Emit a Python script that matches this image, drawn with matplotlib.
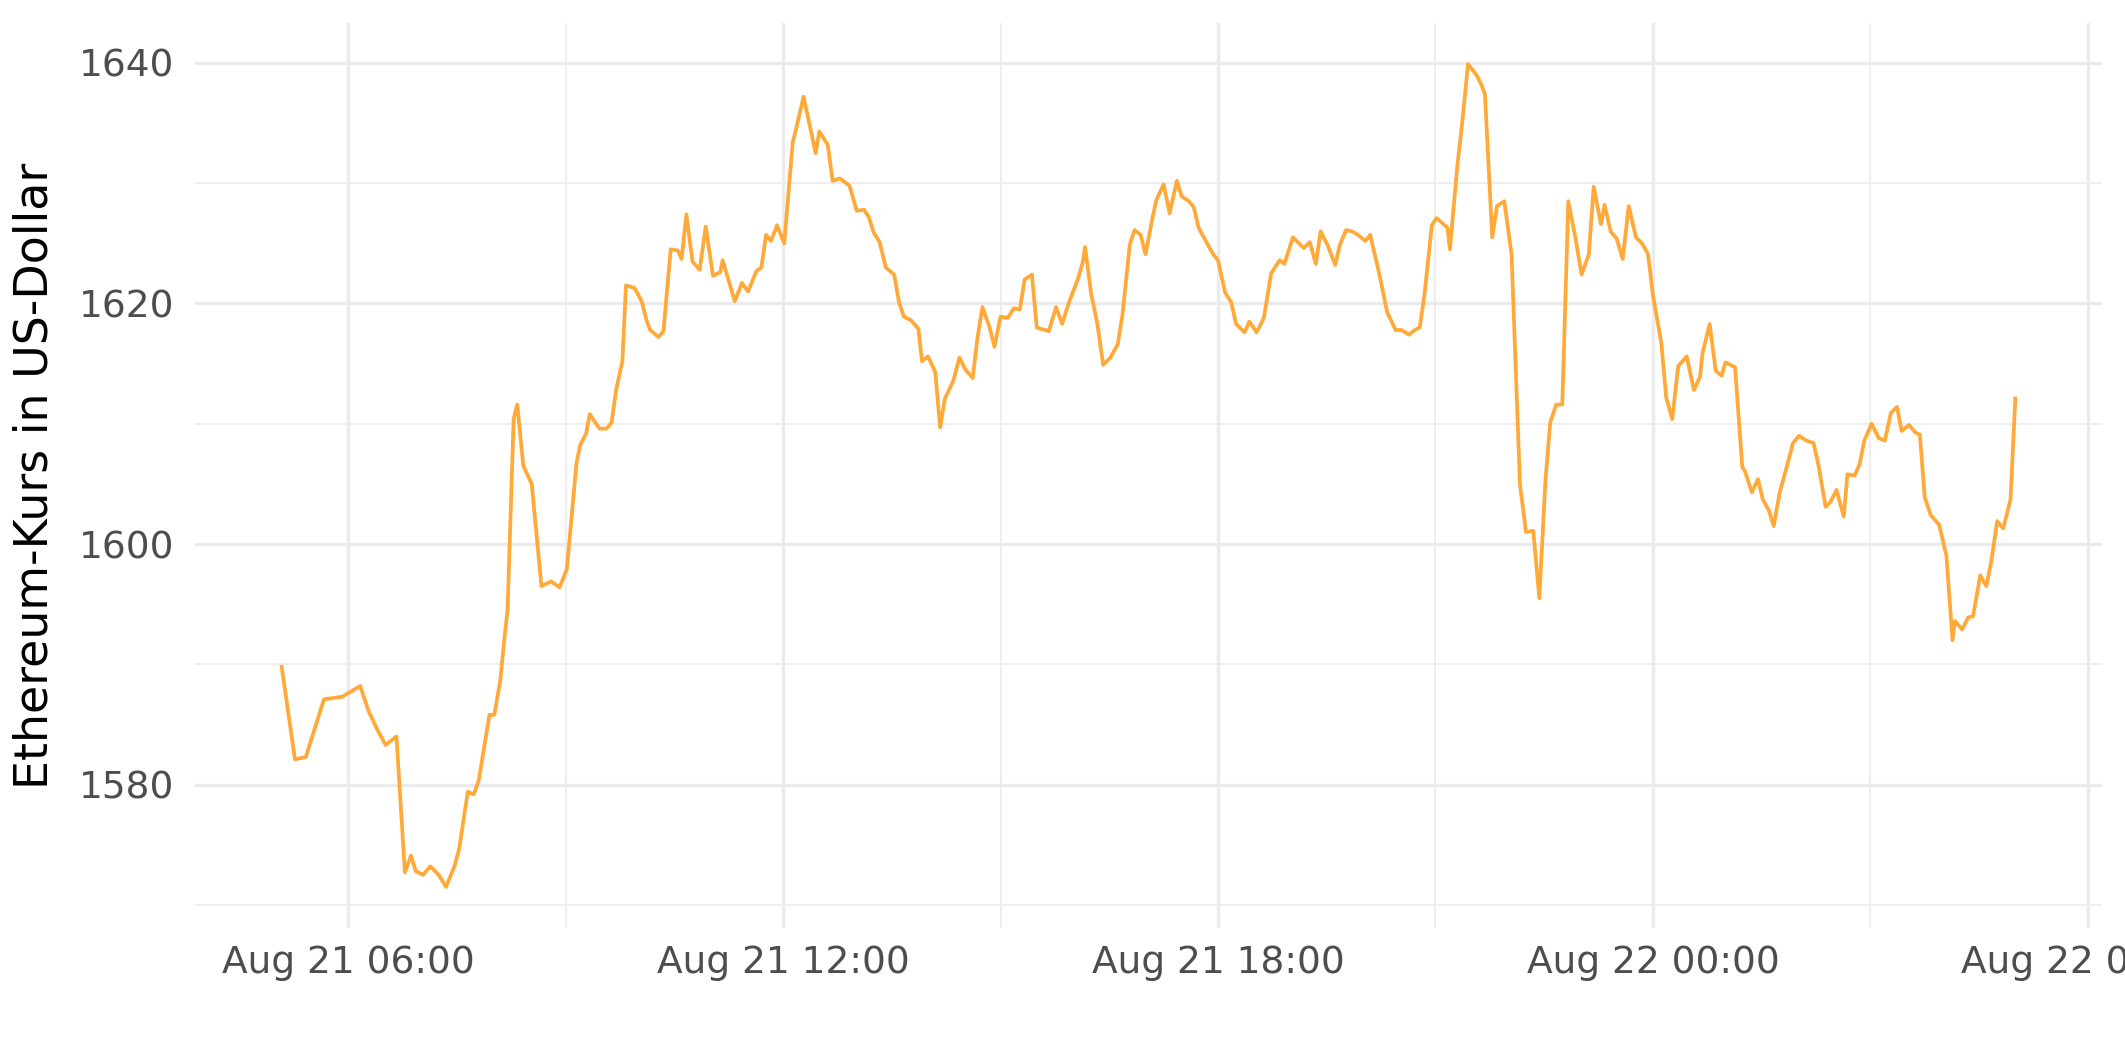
import numpy as np
import pandas as pd
import matplotlib
matplotlib.use("Agg")
import matplotlib.pyplot as plt
import matplotlib.dates as mdates

# Ethereum price (approximate vertices)
times_aug21 = [
    "05:05", "05:16", "05:25", "05:40", "05:55", "06:10", "06:17", "06:24", "06:31", "06:40",
    "06:47", "06:52", "06:56", "07:02", "07:08", "07:15", "07:21", "07:28", "07:32", "07:39",
    "07:44", "07:48", "07:57", "08:01", "08:06", "08:09", "08:12", "08:17", "08:20", "08:25",
    "08:32", "08:40", "08:48", "08:55", "09:01", "09:09", "09:12", "09:17", "09:20", "09:28",
    "09:34", "09:38", "09:42", "09:47", "09:50", "09:57", "10:03", "10:07", "10:10", "10:17",
    "10:21", "10:27", "10:33", "10:36", "10:40", "10:45", "10:51", "10:56", "11:02", "11:08",
    "11:10", "11:20", "11:26", "11:31", "11:38", "11:42", "11:46", "11:50", "11:55", "12:01",
    "12:08", "12:11", "12:17", "12:27", "12:30", "12:37", "12:41", "12:47", "12:55", "13:01",
    "13:07", "13:11", "13:15", "13:20", "13:25", "13:32", "13:36", "13:40", "13:46", "13:52",
    "13:55", "14:00", "14:06", "14:10", "14:14", "14:21", "14:26", "14:31", "14:37", "14:41",
    "14:45", "14:51", "14:55", "15:00", "15:06", "15:11", "15:16", "15:20", "15:26", "15:30",
    "15:40", "15:46", "15:51", "15:57", "16:04", "16:08", "16:10", "16:15", "16:20", "16:25",
    "16:31", "16:37", "16:41", "16:47", "16:51", "16:56", "17:00", "17:06", "17:09", "17:15",
    "17:20", "17:26", "17:30", "17:36", "17:40", "17:44", "17:51", "17:56", "18:00", "18:06",
    "18:11", "18:15", "18:22", "18:26", "18:32", "18:38", "18:44", "18:51", "18:55", "19:02",
    "19:11", "19:16", "19:21", "19:25", "19:31", "19:37", "19:41", "19:46", "19:51", "19:56",
    "20:02", "20:06", "20:13", "20:20", "20:27", "20:32", "20:38", "20:43", "20:47", "20:51",
    "20:57", "21:01", "21:10", "21:12", "21:18", "21:22", "21:27", "21:34", "21:38", "21:41",
    "21:47", "21:51", "21:57", "22:03", "22:10", "22:15", "22:21", "22:26", "22:31", "22:35",
    "22:40", "22:45", "22:50", "22:56", "23:01", "23:07", "23:11", "23:17", "23:20", "23:25",
    "23:30", "23:35", "23:40", "23:46", "23:51", "23:56",
]
price_aug21 = [
    1589.8, 1582.1, 1582.3, 1587.1, 1587.3, 1588.2, 1586.1, 1584.6, 1583.3, 1584.0,
    1572.7, 1574.1, 1572.8, 1572.5, 1573.2, 1572.5, 1571.5, 1573.2, 1574.7, 1579.4,
    1579.2, 1580.3, 1585.8, 1585.8, 1588.7, 1591.8, 1594.6, 1610.4, 1611.6, 1606.5,
    1605.0, 1596.5, 1596.9, 1596.4, 1597.9, 1606.7, 1608.2, 1609.2, 1610.8, 1609.6,
    1609.6, 1610.1, 1612.9, 1615.2, 1621.5, 1621.3, 1620.2, 1618.6, 1617.8, 1617.2,
    1617.7, 1624.5, 1624.4, 1623.7, 1627.4, 1623.5, 1622.8, 1626.4, 1622.3, 1622.6,
    1623.6, 1620.2, 1621.7, 1621.0, 1622.7, 1623.0, 1625.7, 1625.2, 1626.5, 1625.0,
    1633.4, 1634.6, 1637.2, 1632.5, 1634.3, 1633.2, 1630.2, 1630.4, 1629.8, 1627.7,
    1627.8, 1627.2, 1625.9, 1625.1, 1623.0, 1622.4, 1620.1, 1618.9, 1618.6, 1617.9,
    1615.2, 1615.6, 1614.3, 1609.7, 1612.1, 1613.6, 1615.5, 1614.5, 1613.8, 1617.2,
    1619.7, 1618.0, 1616.4, 1618.9, 1618.8, 1619.6, 1619.5, 1622.0, 1622.4, 1618.0,
    1617.7, 1619.7, 1618.3, 1620.2, 1622.0, 1623.4, 1624.7, 1620.8, 1618.4, 1614.9,
    1615.5, 1616.6, 1619.1, 1624.9, 1626.1, 1625.7, 1624.1, 1627.2, 1628.6, 1629.9,
    1627.5, 1630.2, 1628.9, 1628.5, 1628.0, 1626.3, 1625.0, 1624.1, 1623.6, 1620.9,
    1620.1, 1618.3, 1617.6, 1618.5, 1617.6, 1618.8, 1622.5, 1623.6, 1623.3, 1625.5,
    1624.6, 1625.1, 1623.3, 1626.0, 1624.8, 1623.2, 1624.9, 1626.1, 1626.0, 1625.7,
    1625.2, 1625.7, 1622.7, 1619.3, 1617.8, 1617.8, 1617.4, 1617.8, 1618.0, 1620.8,
    1626.5, 1627.1, 1626.3, 1624.5, 1631.3, 1634.9, 1639.9, 1639.0, 1638.2, 1637.4,
    1625.5, 1628.1, 1628.5, 1624.1, 1604.9, 1601.0, 1601.1, 1595.5, 1605.2, 1610.1,
    1611.6, 1611.6, 1628.5, 1625.4, 1622.4, 1624.1, 1629.7, 1626.6, 1628.2, 1626.0,
    1625.4, 1623.7, 1628.1, 1625.5, 1625.0, 1624.1,
]
times_aug22 = [
    "00:00", "00:07", "00:11", "00:16", "00:21", "00:28", "00:34", "00:39", "00:41", "00:47",
    "00:52", "00:57", "01:00", "01:08", "01:14", "01:16", "01:22", "01:27", "01:31", "01:36",
    "01:40", "01:45", "01:51", "01:56", "02:01", "02:07", "02:13", "02:17", "02:23", "02:27",
    "02:32", "02:38", "02:41", "02:47", "02:51", "02:55", "03:01", "03:07", "03:12", "03:17",
    "03:22", "03:26", "03:32", "03:37", "03:41", "03:45", "03:50", "03:57", "04:03", "04:08",
    "04:10", "04:16", "04:21", "04:25", "04:31", "04:36", "04:40", "04:45", "04:50", "04:56",
    "05:00",
]
price_aug22 = [
    1620.7, 1616.7, 1612.2, 1610.4, 1614.8, 1615.6, 1612.8, 1613.9, 1615.8, 1618.3,
    1614.4, 1614.0, 1615.1, 1614.7, 1606.4, 1606.1, 1604.3, 1605.4, 1603.7, 1602.8,
    1601.5, 1604.3, 1606.5, 1608.4, 1609.0, 1608.6, 1608.4, 1606.6, 1603.1, 1603.5,
    1604.5, 1602.3, 1605.8, 1605.7, 1606.6, 1608.6, 1610.0, 1608.8, 1608.6, 1610.9,
    1611.4, 1609.4, 1609.9, 1609.3, 1609.1, 1603.9, 1602.4, 1601.6, 1599.0, 1592.0,
    1593.6, 1592.9, 1593.9, 1594.0, 1597.4, 1596.5, 1598.5, 1601.9, 1601.3, 1603.7,
    1612.1,
]

t = pd.to_datetime(["2023-08-21 " + s for s in times_aug21] +
                   ["2023-08-22 " + s for s in times_aug22])
price = np.array(price_aug21 + price_aug22)

grey92 = "#EBEBEB"
text_col = "#4D4D4D"

fig = plt.figure(figsize=(2125 / 300, 1062 / 300), dpi=300)
ax = fig.add_axes([195 / 2125, 1 - 928 / 1062, (2102 - 195) / 2125, (928 - 23) / 1062])

ax.plot(t, price, color="#FFA939", lw=0.9, solid_joinstyle="round")

# ggplot-like 5% expansion
span = t.max() - t.min()
ax.set_xlim(t.min() - 0.05 * span, t.max() + 0.05 * span)
yr = price.max() - price.min()
ax.set_ylim(price.min() - 0.05 * yr, price.max() + 0.05 * yr)

ax.xaxis.set_major_locator(mdates.HourLocator(byhour=[0, 6, 12, 18]))
ax.xaxis.set_minor_locator(mdates.HourLocator(byhour=[3, 9, 15, 21]))
ax.xaxis.set_major_formatter(mdates.DateFormatter("%b %d %H:%M"))
ax.set_yticks([1580, 1600, 1620, 1640])
ax.set_yticks([1570, 1590, 1610, 1630], minor=True)

ax.grid(which="major", color=grey92, lw=0.8)
ax.grid(which="minor", color=grey92, lw=0.4)
ax.set_axisbelow(True)
for s in ax.spines.values():
    s.set_visible(False)

ax.tick_params(axis="both", which="both", length=0, labelsize=9, labelcolor=text_col)
ax.tick_params(axis="x", pad=4)
ax.tick_params(axis="y", pad=5)

ax.set_ylabel("Ethereum-Kurs in US-Dollar", fontsize=11, color="black", labelpad=5)

fig.savefig("out.png", dpi=300)
